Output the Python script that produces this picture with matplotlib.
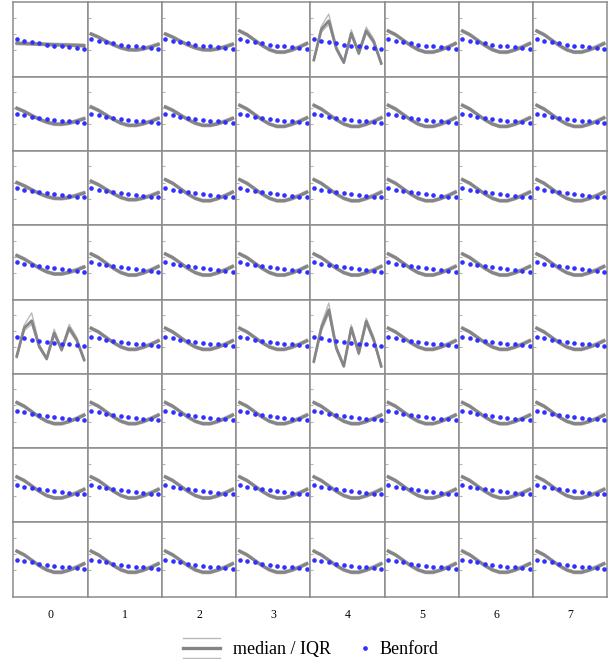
import matplotlib.pyplot as plt
import numpy as np
from matplotlib.lines import Line2D
from matplotlib.legend_handler import HandlerBase

plt.rcParams['font.family'] = ['Liberation Serif', 'DejaVu Serif']

digits = np.arange(10)
columns = ['0', '1', '2', '3', '4', '5', '6', '7']

# second-digit Benford frequencies
benford = [0.1197, 0.1139, 0.1088, 0.1043, 0.1003, 0.0967, 0.0934, 0.0904, 0.0876, 0.0850]

# median profiles of the well-behaved cells
steep = [0.151, 0.137, 0.117, 0.097, 0.081, 0.072, 0.072, 0.080, 0.091, 0.104]
mid = [0.145, 0.132, 0.115, 0.098, 0.084, 0.076, 0.076, 0.082, 0.091, 0.102]
shallow = [0.140, 0.128, 0.113, 0.099, 0.088, 0.081, 0.080, 0.084, 0.092, 0.101]
flat = [0.105, 0.104, 0.103, 0.102, 0.101, 0.100, 0.099, 0.098, 0.097, 0.096]
smooth_q1_gap = [0.005, 0.005, 0.005, 0.005, 0.005, 0.005, 0.005, 0.005, 0.005, 0.005]
smooth_q3_gap = [0.005, 0.005, 0.005, 0.005, 0.005, 0.005, 0.005, 0.006, 0.006, 0.006]

# cells that deviate strongly
zig_04_med = [0.043, 0.157, 0.189, 0.086, 0.033, 0.142, 0.068, 0.152, 0.111, 0.030]
zig_04_q1 = [0.038, 0.146, 0.176, 0.080, 0.029, 0.134, 0.062, 0.143, 0.103, 0.026]
zig_04_q3 = [0.048, 0.168, 0.214, 0.094, 0.038, 0.155, 0.075, 0.165, 0.121, 0.035]

zig_40_med = [0.046, 0.152, 0.179, 0.083, 0.037, 0.133, 0.071, 0.152, 0.108, 0.033]
zig_40_q1 = [0.040, 0.142, 0.166, 0.077, 0.032, 0.125, 0.064, 0.142, 0.100, 0.028]
zig_40_q3 = [0.052, 0.163, 0.208, 0.091, 0.042, 0.147, 0.078, 0.165, 0.118, 0.038]

zig_44_med = [0.027, 0.152, 0.220, 0.077, 0.009, 0.152, 0.058, 0.177, 0.108, 0.009]
zig_44_q1 = [0.022, 0.140, 0.205, 0.070, 0.005, 0.142, 0.051, 0.166, 0.099, 0.005]
zig_44_q3 = [0.033, 0.165, 0.245, 0.085, 0.014, 0.163, 0.066, 0.188, 0.118, 0.014]

profiles = {'steep': steep, 'mid': mid, 'shallow': shallow, 'flat': flat}
special = {
    (0, 4): (zig_04_q1, zig_04_med, zig_04_q3),
    (4, 0): (zig_40_q1, zig_40_med, zig_40_q3),
    (4, 4): (zig_44_q1, zig_44_med, zig_44_q3),
}
panel_profile = [
    ['flat', 'shallow', 'shallow', 'steep', None, 'steep', 'steep', 'steep'],
    ['shallow', 'mid', 'mid', 'steep', 'steep', 'steep', 'steep', 'steep'],
    ['shallow', 'mid', 'steep', 'steep', 'steep', 'steep', 'steep', 'steep'],
    ['mid', 'steep', 'steep', 'steep', 'steep', 'steep', 'steep', 'steep'],
    [None, 'steep', 'steep', 'steep', None, 'steep', 'steep', 'steep'],
    ['steep', 'steep', 'steep', 'steep', 'steep', 'steep', 'steep', 'steep'],
    ['steep', 'steep', 'steep', 'steep', 'steep', 'steep', 'steep', 'steep'],
    ['steep', 'steep', 'steep', 'steep', 'steep', 'steep', 'steep', 'steep'],
]

MED_COLOR = '#858585'
IQR_COLOR = '#bababa'
DOT_COLOR = '#3030ff'
FRAME_COLOR = '#8c8c8c'


class BandHandler(HandlerBase):
    # three stacked lines: Q3, median, Q1
    def create_artists(self, legend, orig_handle, xdescent, ydescent,
                       width, height, fontsize, trans):
        y0 = height / 2 - ydescent
        gap = 7.4
        xs = [-xdescent, width - xdescent]
        out = []
        for dy, c, lw in [(gap, IQR_COLOR, 1.0), (0, MED_COLOR, 2.4), (-gap, IQR_COLOR, 1.0)]:
            ln = Line2D(xs, [y0 + dy] * 2, color=c, lw=lw)
            ln.set_transform(trans)
            out.append(ln)
        return out


class DotHandler(HandlerBase):
    def create_artists(self, legend, orig_handle, xdescent, ydescent,
                       width, height, fontsize, trans):
        y0 = height / 2 - ydescent
        ln = Line2D([width - xdescent - 1.8], [y0], ls='none', marker='o',
                    markersize=3.4, markeredgewidth=0, color=DOT_COLOR)
        ln.set_transform(trans)
        return [ln]


fig, axes = plt.subplots(8, 8, figsize=(6.1, 6.59), dpi=100)
fig.subplots_adjust(left=0.0218, right=0.9959, top=0.9965, bottom=0.0944,
                    wspace=0, hspace=0)

for r in range(8):
    for c in range(8):
        ax = axes[r, c]
        if (r, c) in special:
            q1, med, q3 = special[(r, c)]
            med_lw = 2.0
        else:
            med = np.array(profiles[panel_profile[r][c]])
            q1 = med - np.array(smooth_q1_gap)
            q3 = med + np.array(smooth_q3_gap)
            med_lw = 2.2
        ax.plot(digits, q3, color=IQR_COLOR, lw=1.0, zorder=2)
        ax.plot(digits, q1, color=IQR_COLOR, lw=1.0, zorder=2)
        ax.plot(digits, med, color=MED_COLOR, lw=med_lw, zorder=3)
        ax.plot(digits, benford, ls='none', marker='o', markersize=3.3,
                markeredgewidth=0, color=DOT_COLOR, zorder=4)
        ax.set_xlim(-0.46, 9.46)
        ax.set_ylim(-0.0195, 0.258)
        ax.set_xticks([])
        ax.set_yticks([0.08, 0.14, 0.20])
        ax.tick_params(axis='y', direction='in', length=2.5, width=0.8,
                       color='#b4b4b4', labelleft=False)
        for sp in ax.spines.values():
            sp.set_color(FRAME_COLOR)
            sp.set_linewidth(1.1)
        if r == 7:
            ax.set_xlabel(columns[c], fontsize=8.5, labelpad=9)

band = Line2D([], [])
dot = Line2D([], [])
fig.legend([band, dot], ['median / IQR', 'Benford'],
           handler_map={band: BandHandler(), dot: DotHandler()},
           loc='center', bbox_to_anchor=(0.51, 0.0137), ncol=2,
           frameon=False, fontsize=13, handlelength=2.05,
           handletextpad=0.68, columnspacing=0.0)

fig.savefig('out.png', dpi=100)
